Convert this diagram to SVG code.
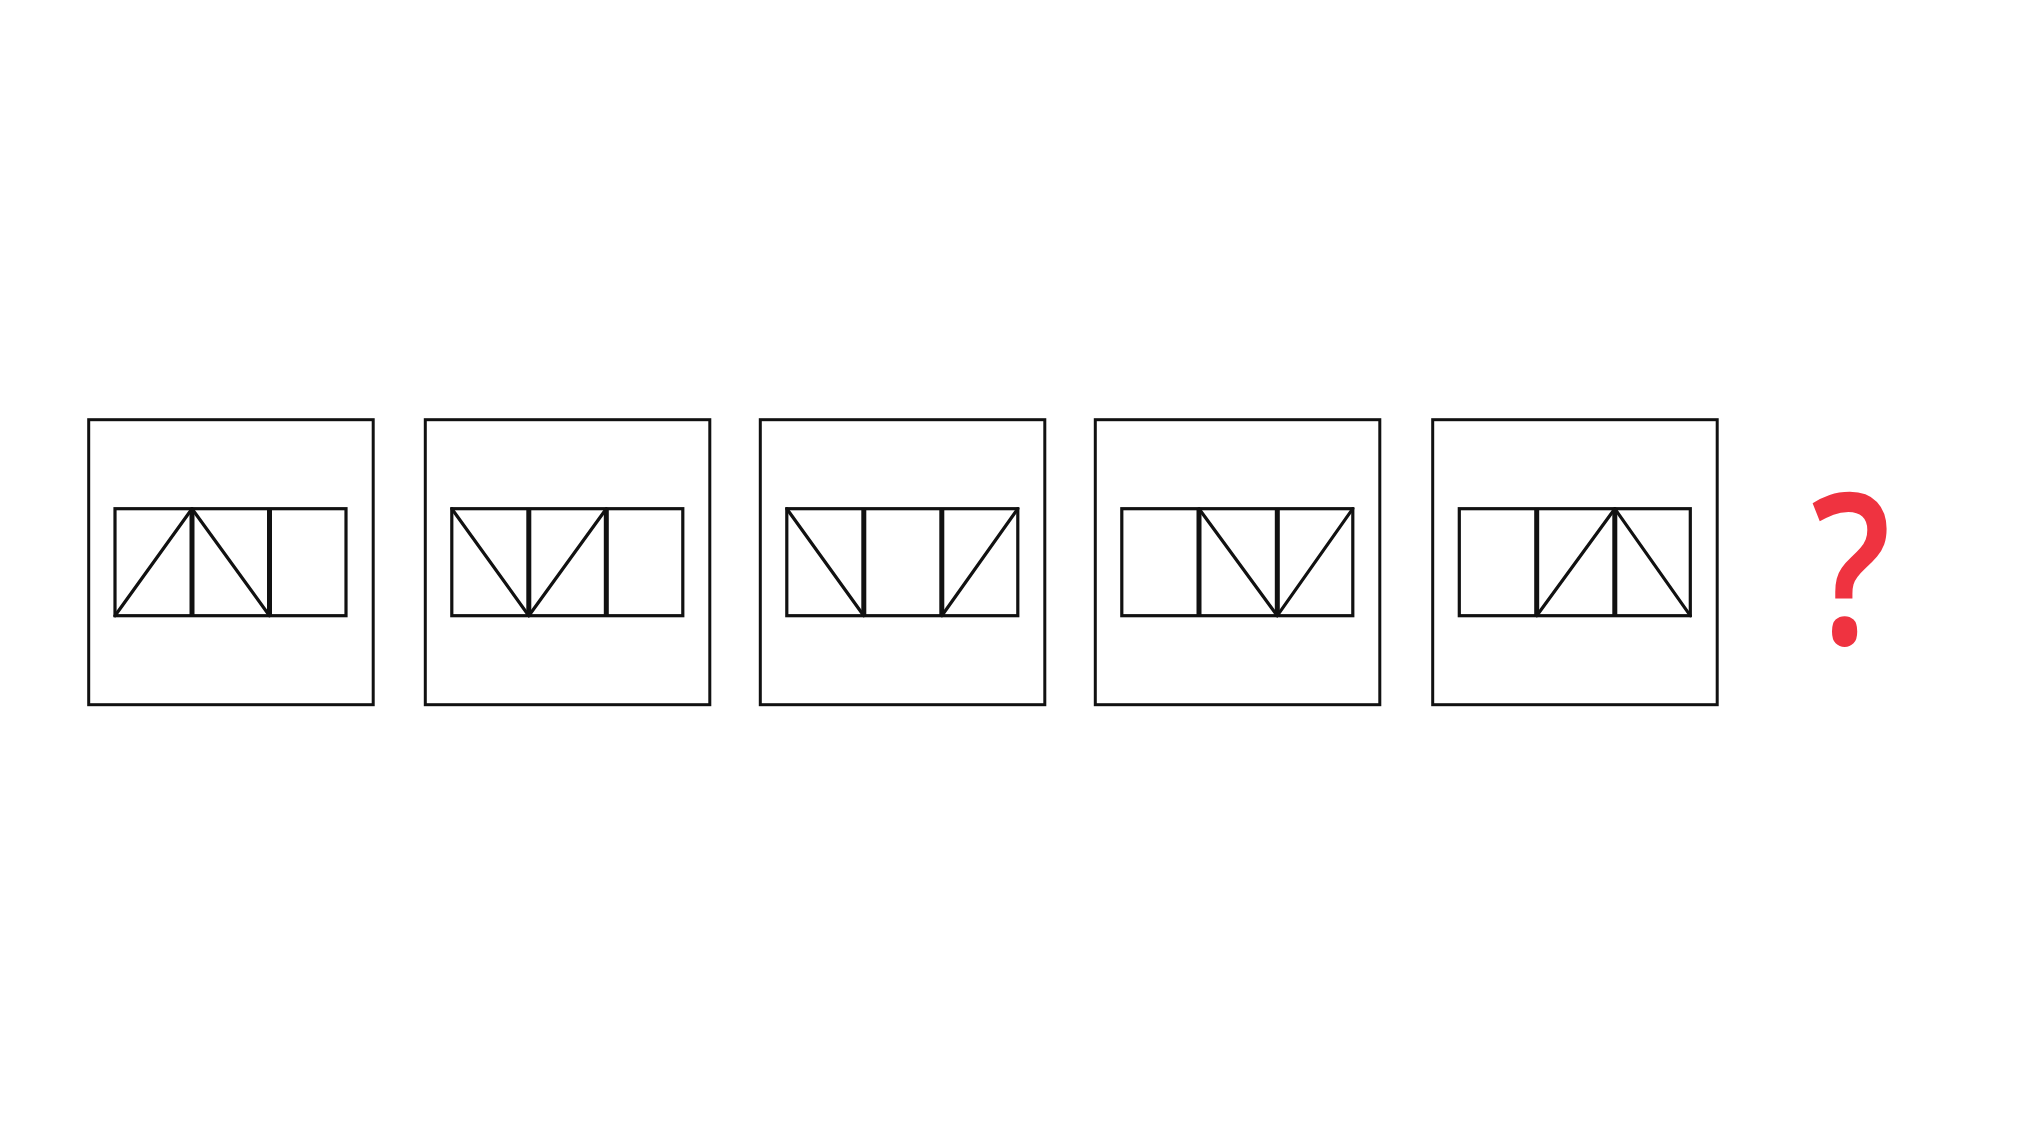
<svg xmlns="http://www.w3.org/2000/svg" width="2031" height="1125" viewBox="0 0 2031 1125">
<style>
.outer{fill:none;stroke:#111;stroke-width:3}
.inner{fill:none;stroke:#111;stroke-width:3.2}
.div{stroke:#111;stroke-width:5}
.diag{stroke:#111;stroke-width:3.2;stroke-linecap:round}
.q{font-family:"Open Sans","Liberation Sans",sans-serif;font-weight:600;font-size:210px;fill:#EF3340}
</style>
<rect width="2031" height="1125" fill="#fff"/>
<g id="box1">
<rect class="outer" x="88.7" y="419.7" width="284.5" height="285"/>
<rect class="inner" x="115" y="508.7" width="231" height="107"/>
<line class="div" x1="192" y1="508.7" x2="192" y2="615.7"/>
<line class="div" x1="269.5" y1="508.7" x2="269.5" y2="615.7"/>
<line class="diag" x1="115" y1="615.7" x2="192" y2="508.7"/>
<line class="diag" x1="192" y1="508.7" x2="269.5" y2="615.7"/>
</g>
<g id="box2">
<rect class="outer" x="425.3" y="419.7" width="284.5" height="285"/>
<rect class="inner" x="451.8" y="508.7" width="231" height="107"/>
<line class="div" x1="528.8" y1="508.7" x2="528.8" y2="615.7"/>
<line class="div" x1="606.3" y1="508.7" x2="606.3" y2="615.7"/>
<line class="diag" x1="451.8" y1="508.7" x2="528.8" y2="615.7"/>
<line class="diag" x1="528.8" y1="615.7" x2="606.3" y2="508.7"/>
</g>
<g id="box3">
<rect class="outer" x="760.3" y="419.7" width="284.5" height="285"/>
<rect class="inner" x="786.8" y="508.7" width="231" height="107"/>
<line class="div" x1="863.8" y1="508.7" x2="863.8" y2="615.7"/>
<line class="div" x1="941.8" y1="508.7" x2="941.8" y2="615.7"/>
<line class="diag" x1="786.8" y1="508.7" x2="863.8" y2="615.7"/>
<line class="diag" x1="941.8" y1="615.7" x2="1017.8" y2="508.7"/>
</g>
<g id="box4">
<rect class="outer" x="1095.3" y="419.7" width="284.5" height="285"/>
<rect class="inner" x="1121.8" y="508.7" width="231" height="107"/>
<line class="div" x1="1199" y1="508.7" x2="1199" y2="615.7"/>
<line class="div" x1="1277.3" y1="508.7" x2="1277.3" y2="615.7"/>
<line class="diag" x1="1199" y1="508.7" x2="1277.3" y2="615.7"/>
<line class="diag" x1="1277.3" y1="615.7" x2="1352.8" y2="508.7"/>
</g>
<g id="box5">
<rect class="outer" x="1432.7" y="419.7" width="284.5" height="285"/>
<rect class="inner" x="1459.3" y="508.7" width="231" height="107"/>
<line class="div" x1="1536.7" y1="508.7" x2="1536.7" y2="615.7"/>
<line class="div" x1="1614.8" y1="508.7" x2="1614.8" y2="615.7"/>
<line class="diag" x1="1536.7" y1="615.7" x2="1614.8" y2="508.7"/>
<line class="diag" x1="1614.8" y1="508.7" x2="1690.3" y2="615.7"/>
</g>
<g id="question">
<text class="q" transform="translate(1851,644) scale(0.84,1)" x="0" y="0" text-anchor="middle">?</text>
</g>
<g id="connectors"/>
</svg>
